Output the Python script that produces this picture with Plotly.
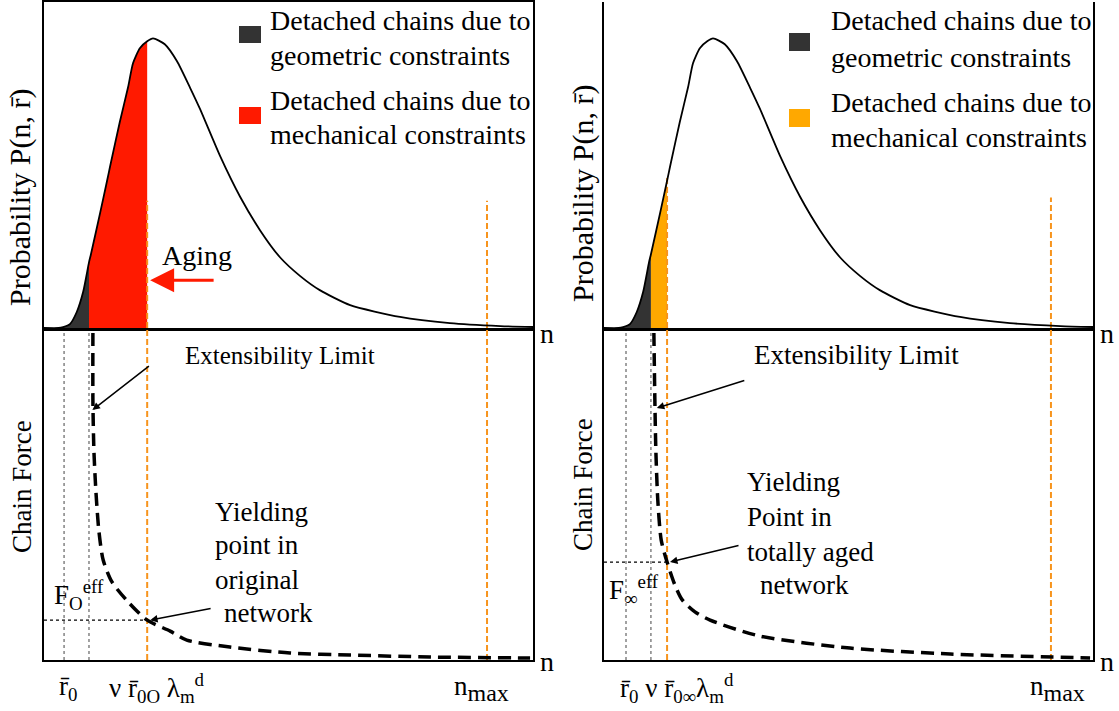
import plotly.graph_objects as go

W, H = 1119, 711
SERIF = "'Liberation Serif', 'Times New Roman', Times, 'DejaVu Serif', serif"
FS = 27

# Chain-length distribution P(n, r̄), same shape for both networks
n_dist = [0, 3.0, 3.9, 5.3, 6.7, 8.0, 9.2, 9.6, 11.5, 12.9, 13.5, 15.5, 17.2, 18.2, 19.6,
          21.1, 22.3, 24.7, 27.2, 29.9, 31.9, 36.0, 40.1, 44.2, 48.3, 52.4, 56.4, 62.6,
          72.8, 83.0, 93.3, 100]
p_dist = [0, 0, 0.003, 0.012, 0.049, 0.110, 0.201, 0.226, 0.354, 0.451, 0.494, 0.631,
          0.738, 0.811, 0.857, 0.878, 0.887, 0.869, 0.817, 0.735, 0.671, 0.527, 0.402,
          0.299, 0.216, 0.159, 0.116, 0.070, 0.034, 0.015, 0.006, 0.003]

# Chain force vs n, original network
n_force_orig = [10.0, 10.0, 10.2, 10.6, 11.2, 12.1, 13.9, 17.2, 21.1, 25.8, 29.2, 38.0,
                50.3, 62.6, 78.9, 99.4]
f_force_orig = [0.985, 0.783, 0.633, 0.512, 0.392, 0.301, 0.235, 0.175, 0.120, 0.087,
                0.060, 0.039, 0.021, 0.015, 0.009, 0.006]

# Chain force vs n, totally aged network
n_force_aged = [10.2, 10.4, 10.6, 11.0, 11.7, 12.9, 14.5, 16.0, 18.6, 21.7, 31.9, 50.3,
                70.8, 99.4]
f_force_aged = [0.985, 0.783, 0.633, 0.482, 0.361, 0.295, 0.226, 0.181, 0.145, 0.120,
                0.072, 0.036, 0.018, 0.006]

# Characteristic chain lengths
n_r0 = [4.1, 4.5]             # r̄0  (original, aged)
n_nu = [9.2, 9.6]             # ν   (geometric limit)
n_mech = [21.1, 12.9]         # ν r̄0 λm^d (mechanical limit)
n_max = [90.6, 91.4]          # n_max
f_eff = [0.120, 0.295]        # F^eff at the yielding point
orange_top = [0.39, 0.465]    # top of the mechanical marker in the P panel
nmax_top = [0.39, 0.40]

BLACK = "#000000"
DARK = "#333333"
RED = "#ff1a00"
ORANGE_FILL = "#ffa800"
ORANGE_LINE = "#f7941d"
mech_fill = [RED, ORANGE_FILL]

fig = go.Figure()


def px(x):
    return x / W


def py(y):
    return 1 - y / H


panels = [
    dict(xl=44, xr=533, top="", bot="2"),
    dict(xl=604, xr=1093, top="3", bot="4"),
]

for i, pnl in enumerate(panels):
    xt, yt = "x" + pnl["top"], "y" + pnl["top"]
    xb, yb = "x" + pnl["bot"], "y" + pnl["bot"]

    # shaded areas under the distribution
    geo = [(n, p) for n, p in zip(n_dist, p_dist) if 3.0 <= n <= n_nu[i]]
    mech = [(n, p) for n, p in zip(n_dist, p_dist) if n_nu[i] <= n <= n_mech[i]]
    fig.add_trace(go.Scatter(x=[a for a, _ in geo], y=[b for _, b in geo], mode="lines",
                             line=dict(width=0, shape="spline", smoothing=0.6),
                             fill="tozeroy", fillcolor=DARK, xaxis=xt, yaxis=yt))
    fig.add_trace(go.Scatter(x=[a for a, _ in mech], y=[b for _, b in mech], mode="lines",
                             line=dict(width=0, shape="spline", smoothing=0.6),
                             fill="tozeroy", fillcolor=mech_fill[i], xaxis=xt, yaxis=yt))
    # orange markers in the P panel
    fig.add_trace(go.Scatter(x=[n_mech[i], n_mech[i]], y=[0, orange_top[i]], mode="lines",
                             line=dict(color=ORANGE_LINE, width=2, dash="6px,3px"),
                             xaxis=xt, yaxis=yt))
    fig.add_trace(go.Scatter(x=[n_max[i], n_max[i]], y=[0, nmax_top[i]], mode="lines",
                             line=dict(color=ORANGE_LINE, width=2, dash="6px,3px"),
                             xaxis=xt, yaxis=yt))
    # distribution curve
    fig.add_trace(go.Scatter(x=n_dist, y=p_dist, mode="lines",
                             line=dict(color=BLACK, width=1.8, shape="spline", smoothing=0.6),
                             xaxis=xt, yaxis=yt))

    # force panel guides
    for nv in (n_r0[i], n_nu[i]):
        fig.add_trace(go.Scatter(x=[nv, nv], y=[0, 0.99], mode="lines",
                                 line=dict(color="#444444", width=1, dash="dot"),
                                 xaxis=xb, yaxis=yb))
    fig.add_trace(go.Scatter(x=[0, n_mech[i]], y=[f_eff[i], f_eff[i]], mode="lines",
                             line=dict(color=BLACK, width=1.3, dash="dot"),
                             xaxis=xb, yaxis=yb))
    for nv in (n_mech[i], n_max[i]):
        fig.add_trace(go.Scatter(x=[nv, nv], y=[0, 1], mode="lines",
                                 line=dict(color=ORANGE_LINE, width=2, dash="6px,3px"),
                                 xaxis=xb, yaxis=yb))
    nf = n_force_orig if i == 0 else n_force_aged
    ff = f_force_orig if i == 0 else f_force_aged
    fig.add_trace(go.Scatter(x=nf, y=ff, mode="lines",
                             line=dict(color=BLACK, width=3.5, dash="13px,7px",
                                       shape="spline", smoothing=0.7),
                             xaxis=xb, yaxis=yb))

axis_common = dict(showgrid=False, zeroline=False, showticklabels=False, ticks="",
                   showline=True, linecolor=BLACK, linewidth=2)
top_dom = [py(328), 1 - 1.5 / H]
bot_dom = [py(660), py(328)]
layout_axes = {}
for i, pnl in enumerate(panels):
    xdom = [px(pnl["xl"]), px(pnl["xr"])]
    t = pnl["top"]
    b = pnl["bot"]
    layout_axes["xaxis" + t] = dict(axis_common, domain=xdom, range=[0, 100],
                                    anchor="y" + t, mirror=(i == 0), linewidth=2.5)
    layout_axes["yaxis" + t] = dict(axis_common, domain=top_dom, range=[0, 1],
                                    anchor="x" + t, mirror=True)
    layout_axes["xaxis" + b] = dict(axis_common, domain=xdom, range=[0, 100],
                                    anchor="y" + b)
    layout_axes["yaxis" + b] = dict(axis_common, domain=bot_dom, range=[0, 1],
                                    anchor="x" + b, mirror=True)


def txt(text, x, y, size=FS, xanchor="left", yanchor="middle", angle=0):
    return dict(text=text, x=px(x), y=py(y), xref="paper", yref="paper", showarrow=False,
                xanchor=xanchor, yanchor=yanchor, textangle=angle,
                font=dict(family=SERIF, size=size, color=BLACK))


def arrow(xref, yref, x, y, ax, ay, color=BLACK, width=1.5, size=1.0):
    return dict(x=x, y=y, xref=xref, yref=yref, ax=ax, ay=ay, text="", showarrow=True,
                arrowhead=2, arrowsize=size, arrowwidth=width, arrowcolor=color)


rbar = "r\u0304"
LEG = 28
nmax_txt = "n<sub><span style='font-size:24px'>max</span></sub>"
annotations = [
    # axis titles
    txt("Probability P(n, " + rbar + ")", 20, 197, size=30, angle=-90, xanchor="center"),
    txt("Chain Force", 22, 487, angle=-90, xanchor="center"),
    txt("Probability P(n, " + rbar + ")", 583, 193, size=30, angle=-90, xanchor="center"),
    txt("Chain Force", 583, 485, angle=-90, xanchor="center"),
    # legends
    txt("Detached chains due to", 268, 20, size=LEG),
    txt("geometric constraints", 268, 56, size=LEG),
    txt("Detached chains due to", 268, 100, size=LEG),
    txt("mechanical constraints", 268, 134, size=LEG),
    txt("Detached chains due to", 829, 20, size=LEG),
    txt("geometric constraints", 829, 58, size=LEG),
    txt("Detached chains due to", 829, 103, size=LEG),
    txt("mechanical constraints", 829, 138, size=LEG),
    # n axis labels
    txt("n", 538, 333, size=28), txt("n", 538, 661, size=28),
    txt("n", 1098, 333, size=28), txt("n", 1098, 661, size=28),
    # left panel notes
    txt("Aging", 160, 255, size=28),
    txt("Extensibility Limit", 183, 355, size=25),
    txt("Yielding", 213, 512), txt("point in", 213, 545),
    txt("original", 213, 580), txt("network", 222, 613),
    txt("F<sub>O</sub><sup>eff</sup>", 52, 595),
    txt(rbar + "<sub>0</sub>", 57, 688),
    txt("\u03bd " + rbar + "<sub>0O</sub> \u03bb<sub>m</sub><sup>d</sup>", 107, 688),
    txt(nmax_txt, 452, 688),
    # right panel notes
    txt("Extensibility Limit", 752, 355),
    txt("Yielding", 745, 482), txt("Point in", 745, 517),
    txt("totally aged", 745, 552), txt("network", 758, 585),
    txt("F<sub>\u221e</sub><sup>eff</sup>", 607, 590),
    txt(rbar + "<sub>0</sub> \u03bd " + rbar + "<sub>0\u221e</sub>\u03bb<sub>m</sub><sup>d</sup>", 618, 688),
    txt(nmax_txt, 1028, 688),
    # arrows
    arrow("x", "y", 21.7, 0.146, 65, 0, color=RED, width=3, size=1.6),
    arrow("x2", "y2", 9.9, 0.753, 58, -45),
    arrow("x2", "y2", 21.7, 0.12, 62, -12),
    arrow("x4", "y4", 10.8, 0.759, 89, -28),
    arrow("x4", "y4", 13.5, 0.295, 70, -17),
]

shapes = [
    dict(type="rect", xref="paper", yref="paper", x0=px(239), x1=px(261), y0=py(43), y1=py(26),
         fillcolor=DARK, line=dict(width=0)),
    dict(type="rect", xref="paper", yref="paper", x0=px(239), x1=px(261), y0=py(124), y1=py(107),
         fillcolor=RED, line=dict(width=0)),
    dict(type="rect", xref="paper", yref="paper", x0=px(789), x1=px(810), y0=py(51), y1=py(33),
         fillcolor=DARK, line=dict(width=0)),
    dict(type="rect", xref="paper", yref="paper", x0=px(789), x1=px(810), y0=py(127), y1=py(109),
         fillcolor=ORANGE_FILL, line=dict(width=0)),
]

fig.update_layout(width=W, height=H, margin=dict(l=0, r=0, t=0, b=0),
                  paper_bgcolor="white", plot_bgcolor="white", showlegend=False,
                  font=dict(family=SERIF),
                  annotations=annotations, shapes=shapes, **layout_axes)

fig.write_html("out.html")
